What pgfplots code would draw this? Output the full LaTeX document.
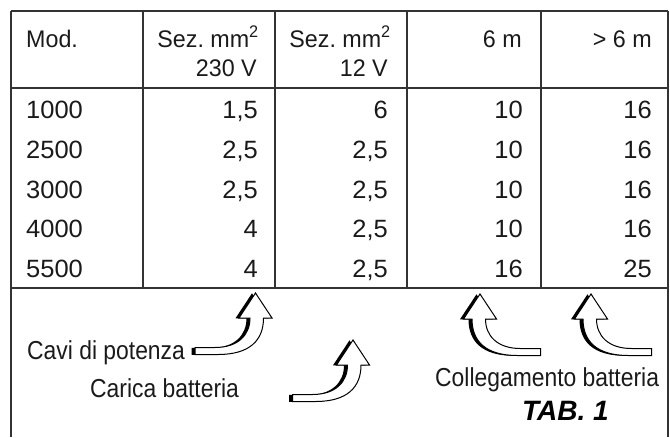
\documentclass[border=0pt]{standalone}
\usepackage{pgfplots}
\pgfplotsset{compat=1.18}
\usepackage{fontspec}
\setmainfont{Liberation Sans}
\newfontfamily\tabfont{Liberation Sans}[FakeStretch=1.02]
\newfontfamily\headfont{Liberation Sans}[FakeStretch=0.97]
\newfontfamily\lowfont{Liberation Sans}[FakeStretch=0.88]
\definecolor{ink}{HTML}{1A1A1A}
\definecolor{rule}{HTML}{333333}

\newcommand{\curvarrow}[3]{%
  \fill[black,xshift=-3.5pt,yshift=-0.3pt]
    (axis cs:{#1+#3*(-60.5)},{#2+61.5}) -- (axis cs:{#1+#3*(-37.5)},{#2+61.5})
    .. controls (axis cs:{#1+#3*(-5.5)},{#2+61.5}) and (axis cs:{#1+#3*(8)},{#2+47}) ..
    (axis cs:{#1+#3*(8)},{#2+25}) -- (axis cs:{#1+#3*(16.5)},{#2+25}) -- (axis cs:{#1},{#2})
    -- (axis cs:{#1+#3*(-16.5)},{#2+25}) -- (axis cs:{#1+#3*(-5.5)},{#2+25})
    .. controls (axis cs:{#1+#3*(-5.5)},{#2+42}) and (axis cs:{#1+#3*(-17.5)},{#2+54.5}) ..
    (axis cs:{#1+#3*(-40.5)},{#2+54.5}) -- (axis cs:{#1+#3*(-60.5)},{#2+54.5}) -- cycle;
  \filldraw[fill=white,draw=black,line width=1pt,line join=miter]
    (axis cs:{#1+#3*(-60.5)},{#2+61.5}) -- (axis cs:{#1+#3*(-37.5)},{#2+61.5})
    .. controls (axis cs:{#1+#3*(-5.5)},{#2+61.5}) and (axis cs:{#1+#3*(8)},{#2+47}) ..
    (axis cs:{#1+#3*(8)},{#2+25}) -- (axis cs:{#1+#3*(16.5)},{#2+25}) -- (axis cs:{#1},{#2})
    -- (axis cs:{#1+#3*(-16.5)},{#2+25}) -- (axis cs:{#1+#3*(-5.5)},{#2+25})
    .. controls (axis cs:{#1+#3*(-5.5)},{#2+42}) and (axis cs:{#1+#3*(-17.5)},{#2+54.5}) ..
    (axis cs:{#1+#3*(-40.5)},{#2+54.5}) -- (axis cs:{#1+#3*(-60.5)},{#2+54.5}) -- cycle;
}

\begin{document}
\begin{tikzpicture}
\begin{axis}[
  width=670pt, height=437pt, scale only axis,
  xmin=0, xmax=670, ymin=0, ymax=437, y dir=reverse,
  hide axis, clip=false,
  cellR/.style={draw=none, nodes near coords, point meta=explicit symbolic,
    every node near coord/.append style={anchor=base east, inner sep=0pt,
      font=\tabfont\fontsize{25}{29}\selectfont, text=ink}},
  cellL/.style={draw=none, nodes near coords, point meta=explicit symbolic,
    every node near coord/.append style={anchor=base west, inner sep=0pt,
      font=\tabfont\fontsize{25}{29}\selectfont, text=ink}},
]
\path (axis cs:0,0) rectangle (axis cs:670,437);

% grid lines
\draw[rule, line width=1.2pt]
  (axis cs:11,11) -- (axis cs:668,11)
  (axis cs:11,88) -- (axis cs:668,88)
  (axis cs:11,288) -- (axis cs:668,288)
  (axis cs:11,11) -- (axis cs:11,437)
  (axis cs:668,11) -- (axis cs:668,437)
  (axis cs:143,11) -- (axis cs:143,288)
  (axis cs:275,11) -- (axis cs:275,288)
  (axis cs:407,11) -- (axis cs:407,288)
  (axis cs:541,11) -- (axis cs:541,288);

% header
\begin{scope}[every node/.style={inner sep=0pt, text=ink, font=\headfont\fontsize{24}{28}\selectfont}]
\node[anchor=base west] at (axis cs:26,47) {Mod.};
\node[anchor=base east] at (axis cs:259,47) {Sez.\ mm\textsuperscript{2}};
\node[anchor=base east] at (axis cs:257,76) {230 V};
\node[anchor=base east] at (axis cs:391,47) {Sez.\ mm\textsuperscript{2}};
\node[anchor=base east] at (axis cs:388,76) {12 V};
\node[anchor=base east] at (axis cs:522,47) {6 m};
\node[anchor=base east] at (axis cs:652,47) {> 6 m};
\end{scope}

% data cells
\addplot[cellL] table[meta=v] {
x y v
26 118.5 1000
26 158 2500
26 198 3000
26 237.5 4000
26 277 5500
};
\addplot[cellR] table[meta=v] {
x y v
258 118.5 1,5
258 158 2,5
258 198 2,5
258 237.5 4
258 277 4
};
\addplot[cellR] table[meta=v] {
x y v
388 118.5 6
388 158 2,5
388 198 2,5
388 237.5 2,5
388 277 2,5
};
\addplot[cellR] table[meta=v] {
x y v
523 118.5 10
523 158 10
523 198 10
523 237.5 10
523 277 16
};
\addplot[cellR] table[meta=v] {
x y v
652 118.5 16
652 158 16
652 198 16
652 237.5 16
652 277 25
};

% arrows
\curvarrow{255.5}{293}{1}
\curvarrow{353}{340}{1}
\curvarrow{480}{294}{-1}
\curvarrow{591}{294}{-1}

% lower labels
\begin{scope}[every node/.style={inner sep=0pt, text=ink, font=\lowfont\fontsize{26}{30}\selectfont}]
\node[anchor=base west] at (axis cs:27,359) {Cavi di potenza};
\node[anchor=base west] at (axis cs:90,397) {Carica batteria};
\node[anchor=base west] at (axis cs:435,386) {Collegamento batteria};
\end{scope}
\node[anchor=base west, inner sep=0pt, text=black, font=\fontsize{28}{32}\selectfont\bfseries\itshape] at (axis cs:522,420) {TAB. 1};
\end{axis}
\end{tikzpicture}
\end{document}
